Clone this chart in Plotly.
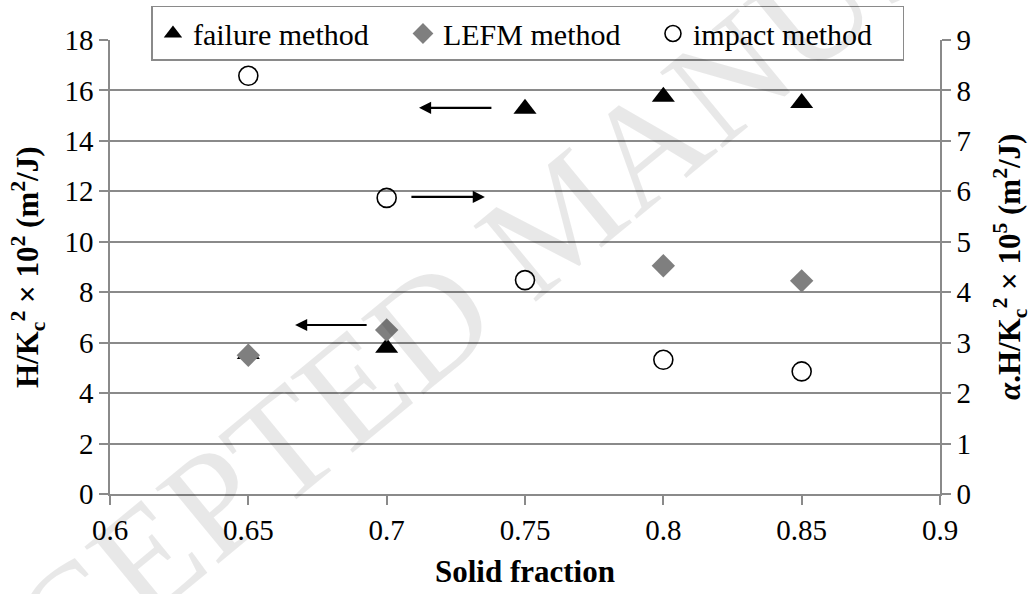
import plotly.graph_objects as go

# Solid fraction of the samples
solid_fraction = [0.65, 0.70, 0.75, 0.80, 0.85]

# H/Kc^2 x 10^2 (m^2/J), left axis
failure_method = [5.55, 5.8, 15.27, 15.75, 15.5]
lefm_method = [5.5, 6.5, None, 9.05, 8.45]

# alpha.H/Kc^2 x 10^5 (m^2/J), right axis
impact_method = [8.29, 5.87, 4.24, 2.66, 2.43]

x_ticks = [0.6, 0.65, 0.7, 0.75, 0.8, 0.85, 0.9]
x_tick_labels = ["0.6", "0.65", "0.7", "0.75", "0.8", "0.85", "0.9"]

left_title = "<b>H/K<sub>c</sub><sup>2</sup> × 10<sup>2</sup> (m<sup>2</sup>/J)</b>"
right_title = "<b><i>α</i>.H/K<sub>c</sub><sup>2</sup> × 10<sup>5</sup> (m<sup>2</sup>/J)</b>"

FONT = "Liberation Serif"
GRAY = "#8a8a8a"
TICK_SIZE = 29
TITLE_SIZE = 31
YTITLE_SIZE = 31

fig = go.Figure()

fig.add_trace(go.Scatter(
    x=solid_fraction, y=failure_method, mode="markers", name="failure method",
    marker=dict(symbol="triangle-up", size=20, color="black"),
    yaxis="y",
))
fig.add_trace(go.Scatter(
    x=solid_fraction, y=lefm_method, mode="markers", name="LEFM method",
    marker=dict(symbol="diamond", size=18, color="#7f7f7f"),
    yaxis="y",
))
fig.add_trace(go.Scatter(
    x=solid_fraction, y=impact_method, mode="markers", name="impact method",
    marker=dict(symbol="circle-open", size=19, color="black", line=dict(width=1.6)),
    yaxis="y2",
))

# Arrows pointing to the axis each series is read against
arrows = [
    # (tail x, head x, y on left axis)
    (0.7384, 0.7117, 15.31),
    (0.7084, 0.7355, 11.78),
    (0.6933, 0.6669, 6.70),
]
annotations = [dict(
    text="ACCEPTED MANUSCRIPT", x=0.542, y=0.612, xref="paper", yref="paper",
    showarrow=False, textangle=-39.5,
    font=dict(family=FONT, size=150, color="rgba(0,0,0,0.09)"),
)]
annotations += [
    dict(
        x=head, y=yv, ax=tail, ay=yv, xref="x", yref="y", axref="x", ayref="y",
        showarrow=True, arrowhead=2, arrowsize=1.1, arrowwidth=2.2,
        arrowcolor="black", text="",
    )
    for tail, head, yv in arrows
]
# Vertical axis titles
annotations += [
    dict(text=left_title, x=0, y=0.5, xref="paper", yref="paper",
         xanchor="center", yanchor="middle", xshift=-82, textangle=-90,
         showarrow=False, font=dict(family=FONT, size=YTITLE_SIZE, color="black")),
    dict(text=right_title, x=1, y=0.5, xref="paper", yref="paper",
         xanchor="center", yanchor="middle", xshift=70, textangle=-90,
         showarrow=False, font=dict(family=FONT, size=YTITLE_SIZE, color="black")),
]

fig.update_layout(
    template="none",
    width=1032, height=594,
    margin=dict(l=110, r=92, t=40, b=100, autoexpand=False),
    paper_bgcolor="white", plot_bgcolor="white",
    font=dict(family=FONT, size=TICK_SIZE, color="black"),
    showlegend=True,
    legend=dict(
        orientation="h", xref="container", yref="container",
        x=0.5116, xanchor="center", y=0.9899, yanchor="top",
        bgcolor="white", bordercolor=GRAY, borderwidth=1.5,
        font=dict(family=FONT, size=30, color="black"),
        itemwidth=30, tracegroupgap=0, entrywidth=205, entrywidthmode="pixels",
    ),
    annotations=annotations,
    xaxis=dict(
        range=[0.6, 0.9], tickvals=x_ticks, ticktext=x_tick_labels,
        showgrid=False, zeroline=False,
        showline=True, linecolor=GRAY, linewidth=1.5,
        ticks="outside", ticklen=9, tickwidth=1.5, tickcolor=GRAY,
        tickfont=dict(family=FONT, size=TICK_SIZE),
        title=dict(text="<b>Solid fraction</b>", standoff=16,
                   font=dict(family=FONT, size=TITLE_SIZE)),
    ),
    yaxis=dict(
        range=[0, 18], dtick=2, tick0=0,
        showgrid=True, gridcolor=GRAY, gridwidth=1.5, zeroline=False,
        showline=True, linecolor=GRAY, linewidth=1.5,
        ticks="outside", ticklen=9, tickwidth=1.5, tickcolor=GRAY,
        tickfont=dict(family=FONT, size=TICK_SIZE),
    ),
    yaxis2=dict(
        range=[0, 9], dtick=1, tick0=0, overlaying="y", side="right",
        showgrid=False, zeroline=False,
        showline=True, linecolor=GRAY, linewidth=1.5,
        ticks="outside", ticklen=9, tickwidth=1.5, tickcolor=GRAY,
        tickfont=dict(family=FONT, size=TICK_SIZE),
    ),
)

fig.write_html("out.html")
